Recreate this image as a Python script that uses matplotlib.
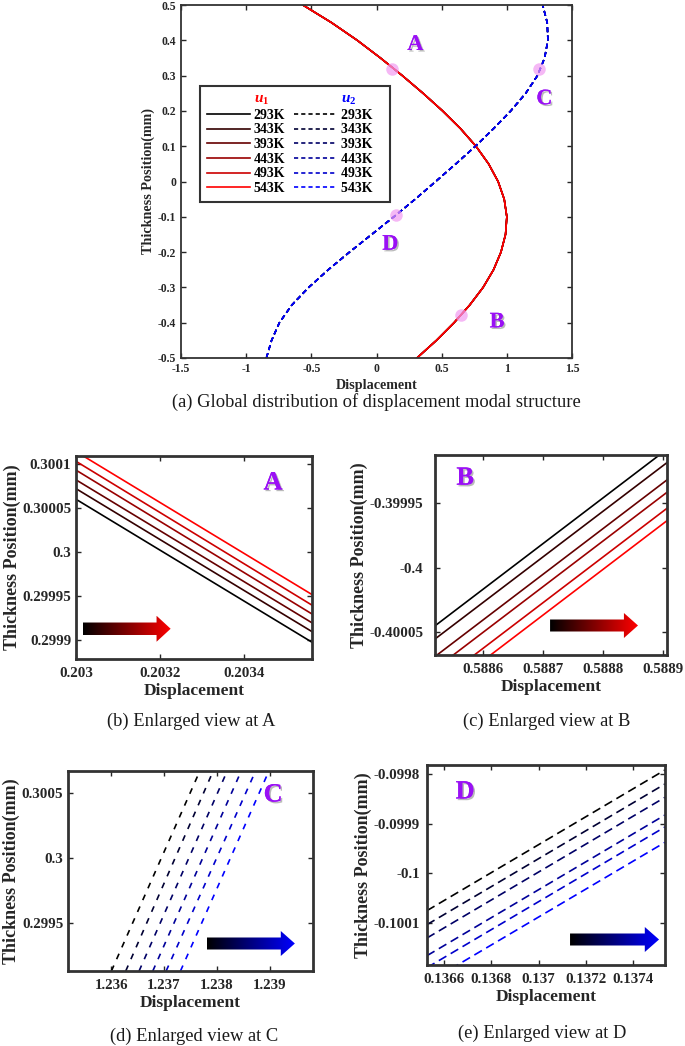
"""Displacement modal structure with enlarged views at points A-D."""

import matplotlib

matplotlib.use("Agg")
import matplotlib.patheffects as pe
import matplotlib.pyplot as plt
import numpy as np
from matplotlib.colors import LinearSegmentedColormap
from matplotlib.lines import Line2D
from matplotlib.patches import Polygon
from matplotlib.ticker import FuncFormatter

W, H = 685, 1046

TEMPS = ["293K", "343K", "393K", "443K", "493K", "543K"]

# global profile
THICKNESS = [-0.50, -0.45, -0.40, -0.35, -0.30, -0.25, -0.20, -0.15, -0.10, -0.05, 0.00,
             0.05, 0.10, 0.15, 0.20, 0.25, 0.30, 0.35, 0.40, 0.45, 0.50]
U1 = [0.310, 0.460, 0.595, 0.715, 0.818, 0.898, 0.955, 0.990, 1.000, 0.980, 0.933,
      0.860, 0.763, 0.644, 0.507, 0.357, 0.198, 0.030, -0.148, -0.345, -0.565]
U2 = [-0.845, -0.805, -0.745, -0.650, -0.520, -0.370, -0.207, -0.037, 0.133, 0.297, 0.454,
      0.609, 0.759, 0.899, 1.030, 1.145, 1.235, 1.290, 1.315, 1.310, 1.275]

POINT_NAMES = ["A", "B", "C", "D"]
POINT_X = [0.119, 0.651, 1.244, 0.152]
POINT_Y = [0.319, -0.379, 0.319, -0.096]
NAME_X = [0.298, 0.925, 1.288, 0.106]
NAME_Y = [0.387, -0.399, 0.233, -0.179]

# enlarged view at A (u1): y at the left and right edge of the view
A_X = [0.20300, 0.203563]
A_Y_LEFT = [0.300060, 0.300072, 0.300082, 0.300093, 0.300103, 0.300114]
A_Y_RIGHT = [0.299898, 0.299910, 0.299920, 0.299930, 0.299940, 0.299952]

# enlarged view at B (u1)
B_X = [0.58852, 0.588906]
B_Y_LEFT = [-0.4000450, -0.4000552, -0.4000688, -0.4000784, -0.4000908, -0.4001004]
B_Y_RIGHT = [-0.3999081, -0.3999185, -0.3999319, -0.3999415, -0.3999539, -0.3999635]

# enlarged view at C (u2): x at the bottom and top edge of the view
C_Y = [0.299132, 0.300666]
C_X_BOTTOM = [1.236000, 1.236272, 1.236525, 1.236785, 1.237038, 1.237310]
C_X_TOP = [1.237677, 1.237930, 1.238196, 1.238462, 1.238734, 1.238987]

# enlarged view at D (u2)
D_X = [0.1365265, 0.1375371]
D_Y_LEFT = [-0.1000751, -0.1001033, -0.1001302, -0.1001658, -0.1001899, -0.1002208]
D_Y_RIGHT = [-0.0997919, -0.0998201, -0.0998470, -0.0998826, -0.0999067, -0.0999376]

SERIF = "Liberation Serif"
TICK_COLOR = "#262626"
PURPLE = "#9a10f5"
RED_SHADES = [(f, 0, 0) for f in np.linspace(0, 1, 6)]
BLUE_SHADES = [(0, 0, f) for f in np.linspace(0, 1, 6)]

plt.rcParams["font.family"] = SERIF
plt.rcParams["font.weight"] = "bold"
plt.rcParams["axes.labelweight"] = "bold"
plt.rcParams["axes.unicode_minus"] = False
plt.rcParams["lines.scale_dashes"] = False
plt.rcParams["mathtext.fontset"] = "custom"
plt.rcParams["mathtext.it"] = "Liberation Serif:italic:bold"
plt.rcParams["mathtext.rm"] = "Liberation Serif:bold"


def px_axes(fig, left, right, top, bottom):
    return fig.add_axes([left / W, 1 - bottom / H, (right - left) / W, (bottom - top) / H])


def style_axes(ax, tick_size, spine_w, xpad=3.5, ypad=3.5):
    ax.tick_params(direction="in", top=True, right=True, length=3.5, width=1,
                   labelsize=tick_size, labelcolor=TICK_COLOR, color=TICK_COLOR)
    ax.tick_params(axis="x", pad=xpad)
    ax.tick_params(axis="y", pad=ypad)
    for spine in ax.spines.values():
        spine.set_linewidth(spine_w)
        spine.set_color("#333333")
    fmt = FuncFormatter(lambda v, _: f"{v:g}")
    ax.xaxis.set_major_formatter(fmt)
    ax.yaxis.set_major_formatter(fmt)


def zoom_labels(ax):
    ax.set_xlabel("Displacement", fontsize=12.5, color=TICK_COLOR, labelpad=2)
    ax.set_ylabel("Thickness Position(mm)", fontsize=13, color=TICK_COLOR, labelpad=1)


def tag(ax, name, x, y, size=19, transform=None):
    ax.text(x, y, name, color=PURPLE, fontsize=size, fontweight="bold", ha="center", va="center",
            transform=transform if transform is not None else ax.transData,
            path_effects=[pe.withSimplePatchShadow(offset=(1.2, -1.2), shadow_rgbFace="#777777",
                                                   alpha=0.5), pe.Normal()])


def gradient_arrow(ax, bounds, cmap):
    iax = ax.inset_axes(bounds)
    iax.set_axis_off()
    grad = np.linspace(0, 1, 256).reshape(1, -1)
    im = iax.imshow(grad, cmap=cmap, extent=[0, 1, 0, 1], aspect="auto")
    shape = Polygon([(0, 0.26), (0.84, 0.26), (0.84, 0.0), (1.0, 0.5), (0.84, 1.0), (0.84, 0.74),
                     (0, 0.74)], closed=True, transform=iax.transData, facecolor="none",
                    edgecolor="none")
    iax.add_patch(shape)
    im.set_clip_path(shape)
    iax.set_xlim(0, 1)
    iax.set_ylim(0, 1)


fig = plt.figure(figsize=(W / 100, H / 100), dpi=100)

# (a) global distribution
ax = px_axes(fig, 181, 572, 5, 358)
for k in range(len(TEMPS)):
    ax.plot(U1, THICKNESS, color=RED_SHADES[k], lw=1.1)
    ax.plot(U2, THICKNESS, color=BLUE_SHADES[k], lw=1.1, ls=(0, (3.6, 2.4)))
ax.plot(POINT_X, POINT_Y, "o", color="#f29af2", alpha=0.7, ms=9, mec="none", zorder=4)
for name, x, y in zip(POINT_NAMES, NAME_X, NAME_Y):
    tag(ax, name, x, y, size=16)
ax.set_xlim(-1.5, 1.5)
ax.set_ylim(-0.5, 0.5)
ax.set_xticks([-1.5, -1, -0.5, 0, 0.5, 1, 1.5])
ax.set_yticks([-0.5, -0.4, -0.3, -0.2, -0.1, 0, 0.1, 0.2, 0.3, 0.4, 0.5])
style_axes(ax, 8.4, 1.3)
ax.set_xlabel("Displacement", fontsize=10.2, color=TICK_COLOR, labelpad=3)
ax.set_ylabel("Thickness Position(mm)", fontsize=10.2, color=TICK_COLOR, labelpad=2)

handles = [Line2D([], [], ls="none")]
handles += [Line2D([], [], color=c, lw=1.2) for c in RED_SHADES]
handles += [Line2D([], [], ls="none")]
handles += [Line2D([], [], color=c, lw=1.2, ls=(0, (3, 2.2))) for c in BLUE_SHADES]
labels = ["$u_1$"] + TEMPS + ["$u_2$"] + [t + "   " for t in TEMPS]
leg = ax.legend(handles, labels, ncol=2, loc="upper left", bbox_to_anchor=(0.03, 0.79),
                fancybox=False, edgecolor="#333333", framealpha=1,
                prop={"family": SERIF, "weight": "bold", "size": 10},
                handlelength=3.1, handletextpad=0.3, columnspacing=0.6, labelspacing=0.12,
                borderpad=0.5)
leg.get_frame().set_linewidth(1.5)
texts = leg.get_texts()
texts[0].set_color("red")
texts[7].set_color("blue")
for t in (texts[0], texts[7]):
    t.set_fontsize(11)

# (b) enlarged view at A
ax = px_axes(fig, 76, 312, 456, 659)
for k in range(len(TEMPS)):
    ax.plot(A_X, [A_Y_LEFT[k], A_Y_RIGHT[k]], color=RED_SHADES[k], lw=1.2)
ax.set_xlim(A_X)
ax.set_ylim(0.299879, 0.300109)
ax.set_xticks([0.203, 0.2032, 0.2034])
ax.set_yticks([0.2999, 0.29995, 0.3, 0.30005, 0.3001])
style_axes(ax, 10.8, 2, xpad=6)
zoom_labels(ax)
tag(ax, "A", 0.835, 0.867, transform=ax.transAxes)
gradient_arrow(ax, [0.028, 0.085, 0.373, 0.128],
               LinearSegmentedColormap.from_list("k2r", ["black", "red"]))

# (c) enlarged view at B
ax = px_axes(fig, 435, 667, 455, 655)
for k in range(len(TEMPS)):
    ax.plot(B_X, [B_Y_LEFT[k], B_Y_RIGHT[k]], color=RED_SHADES[k], lw=1.2)
ax.set_xlim(B_X)
ax.set_ylim(-0.4000676, -0.3999126)
ax.set_xticks([0.5886, 0.5887, 0.5888, 0.5889])
ax.set_yticks([-0.40005, -0.4, -0.39995])
style_axes(ax, 10.8, 2, xpad=6, ypad=8.5)
zoom_labels(ax)
tag(ax, "B", 0.13, 0.884, transform=ax.transAxes)
gradient_arrow(ax, [0.496, 0.085, 0.379, 0.125],
               LinearSegmentedColormap.from_list("k2r", ["black", "red"]))

# (d) enlarged view at C
ax = px_axes(fig, 68, 313, 771, 971)
for k in range(len(TEMPS)):
    ax.plot([C_X_BOTTOM[k], C_X_TOP[k]], C_Y, color=BLUE_SHADES[k], lw=1.2, ls=(0, (4.3, 5)))
ax.set_xlim(1.235177, 1.239823)
ax.set_ylim(C_Y)
ax.set_xticks([1.236, 1.237, 1.238, 1.239])
ax.set_yticks([0.2995, 0.3, 0.3005])
style_axes(ax, 10.8, 2, xpad=6)
zoom_labels(ax)
tag(ax, "C", 0.837, 0.88, transform=ax.transAxes)
gradient_arrow(ax, [0.567, 0.075, 0.359, 0.125],
               LinearSegmentedColormap.from_list("k2b", ["black", "blue"]))

# (e) enlarged view at D
ax = px_axes(fig, 427, 665, 765, 965)
for k in range(len(TEMPS)):
    ax.plot(D_X, [D_Y_LEFT[k], D_Y_RIGHT[k]], color=BLUE_SHADES[k], lw=1.2, ls=(0, (6.3, 3.6)))
ax.set_xlim(D_X)
ax.set_ylim(-0.1001846, -0.0997819)
ax.set_xticks([0.1366, 0.1368, 0.137, 0.1372, 0.1374])
ax.set_yticks([-0.1001, -0.1, -0.0999, -0.0998])
style_axes(ax, 10.8, 2, xpad=6, ypad=5)
zoom_labels(ax)
tag(ax, "D", 0.16, 0.865, transform=ax.transAxes)
gradient_arrow(ax, [0.601, 0.065, 0.374, 0.125],
               LinearSegmentedColormap.from_list("k2b", ["black", "blue"]))

captions = [
    ("(a) Global distribution of displacement modal structure", 376, 402),
    ("(b) Enlarged view at A", 191, 721),
    ("(c) Enlarged view at B", 547, 721),
    ("(d) Enlarged view at C", 194, 1036),
    ("(e) Enlarged view at D", 542, 1033),
]
for text, x, y in captions:
    fig.text(x / W, 1 - y / H, text, ha="center", va="center", fontsize=13.3,
             fontweight="normal", family=SERIF, color="#1a1a1a")

fig.savefig("out.png", dpi=100)
